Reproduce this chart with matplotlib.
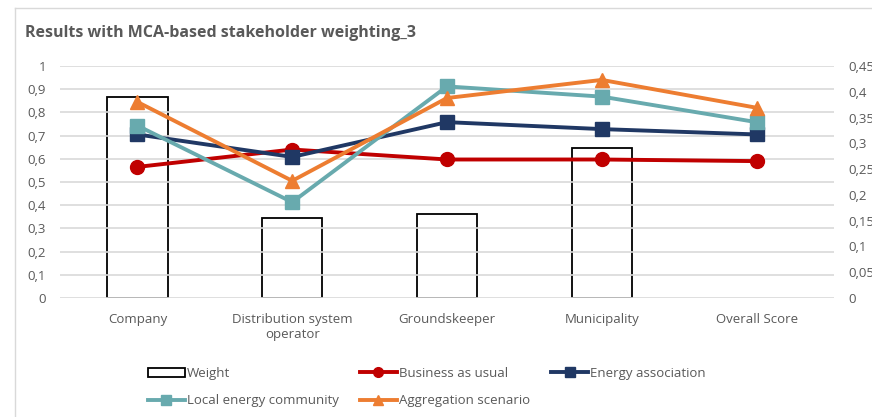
import matplotlib.pyplot as plt
from matplotlib.ticker import FuncFormatter, MultipleLocator
from matplotlib.lines import Line2D

categories = ["Company", "Distribution system\noperator", "Groundskeeper",
              "Municipality", "Overall Score"]
weight = [0.39, 0.155, 0.163, 0.291, 0.0]
business_as_usual = [0.565, 0.64, 0.597, 0.597, 0.59]
energy_association = [0.705, 0.608, 0.758, 0.728, 0.705]
local_energy_community = [0.743, 0.413, 0.912, 0.868, 0.758]
aggregation_scenario = [0.845, 0.505, 0.862, 0.94, 0.82]

txt = "#595959"
plt.rcParams['font.family'] = ['Open Sans', 'DejaVu Sans']

fig = plt.figure(figsize=(8.72, 4.17), dpi=100)
ax = fig.add_axes([60 / 872, 1 - 298 / 417, 774 / 872, 232 / 417])
ax2 = ax.twinx()

x = list(range(len(categories)))
bars = ax2.bar(x, weight, width=0.39, facecolor="none", edgecolor="black",
               linewidth=1.3, label="Weight")
for b in bars:
    if b.get_height() == 0:
        b.set_visible(False)

series = [
    ("Business as usual", business_as_usual, "#C00000", "o"),
    ("Energy association", energy_association, "#203864", "s"),
    ("Local energy community", local_energy_community, "#68AAAE", "s"),
    ("Aggregation scenario", aggregation_scenario, "#ED7D31", "^"),
]
handles = {}
for name, vals, col, mk in series:
    ln, = ax.plot(x, vals, color=col, lw=2.8, marker=mk, markersize=10, label=name)
    handles[name] = ln

ax.set_zorder(ax2.get_zorder() + 1)
ax.patch.set_visible(False)

ax.set_xlim(-0.5, 4.5)
ax.set_ylim(0, 1)
ax2.set_ylim(0, 0.45)
ax.yaxis.set_major_locator(MultipleLocator(0.1))
ax2.yaxis.set_major_locator(MultipleLocator(0.05))
comma = FuncFormatter(lambda v, p: ("%g" % round(v, 2)).replace(".", ","))
ax.yaxis.set_major_formatter(comma)
ax2.yaxis.set_major_formatter(comma)

ax2.grid(False)
ax.grid(axis="y", color="#D9D9D9", lw=1.2)
for a in (ax, ax2):
    for s in a.spines.values():
        s.set_visible(False)
    a.tick_params(length=0, colors=txt, labelsize=9.5)
ax.tick_params(axis="y", pad=10)
ax2.tick_params(axis="y", pad=10)
ax.tick_params(axis="x", pad=11)
ax.set_xticks(x)
ax.set_xticklabels(categories, color=txt, fontsize=9.5)

fig.text(25 / 872, 1 - 33 / 417, "Results with MCA-based stakeholder weighting_3",
         fontsize=11.5, fontweight="bold", color=txt, va="center")

# chart frame edges
fig.add_artist(Line2D([15 / 872, 1], [1 - 8 / 417] * 2, color="#D9D9D9", lw=1))
fig.add_artist(Line2D([15 / 872] * 2, [0, 1 - 8 / 417], color="#D9D9D9", lw=1))

order = [bars[0], handles["Local energy community"], handles["Business as usual"],
         handles["Aggregation scenario"], handles["Energy association"]]
labels = ["Weight", "Local energy community", "Business as usual",
          "Aggregation scenario", "Energy association"]
leg = fig.legend(order, labels, ncol=3, loc="center left",
                 bbox_to_anchor=(148 / 872, 1 - 387 / 417), frameon=False,
                 fontsize=9.5, handlelength=2.8, handletextpad=0.15,
                 columnspacing=1.6, labelspacing=1.1, markerscale=0.7,
                 borderaxespad=0, borderpad=0)
for t in leg.get_texts():
    t.set_color(txt)

fig.savefig("out.png", dpi=100)
